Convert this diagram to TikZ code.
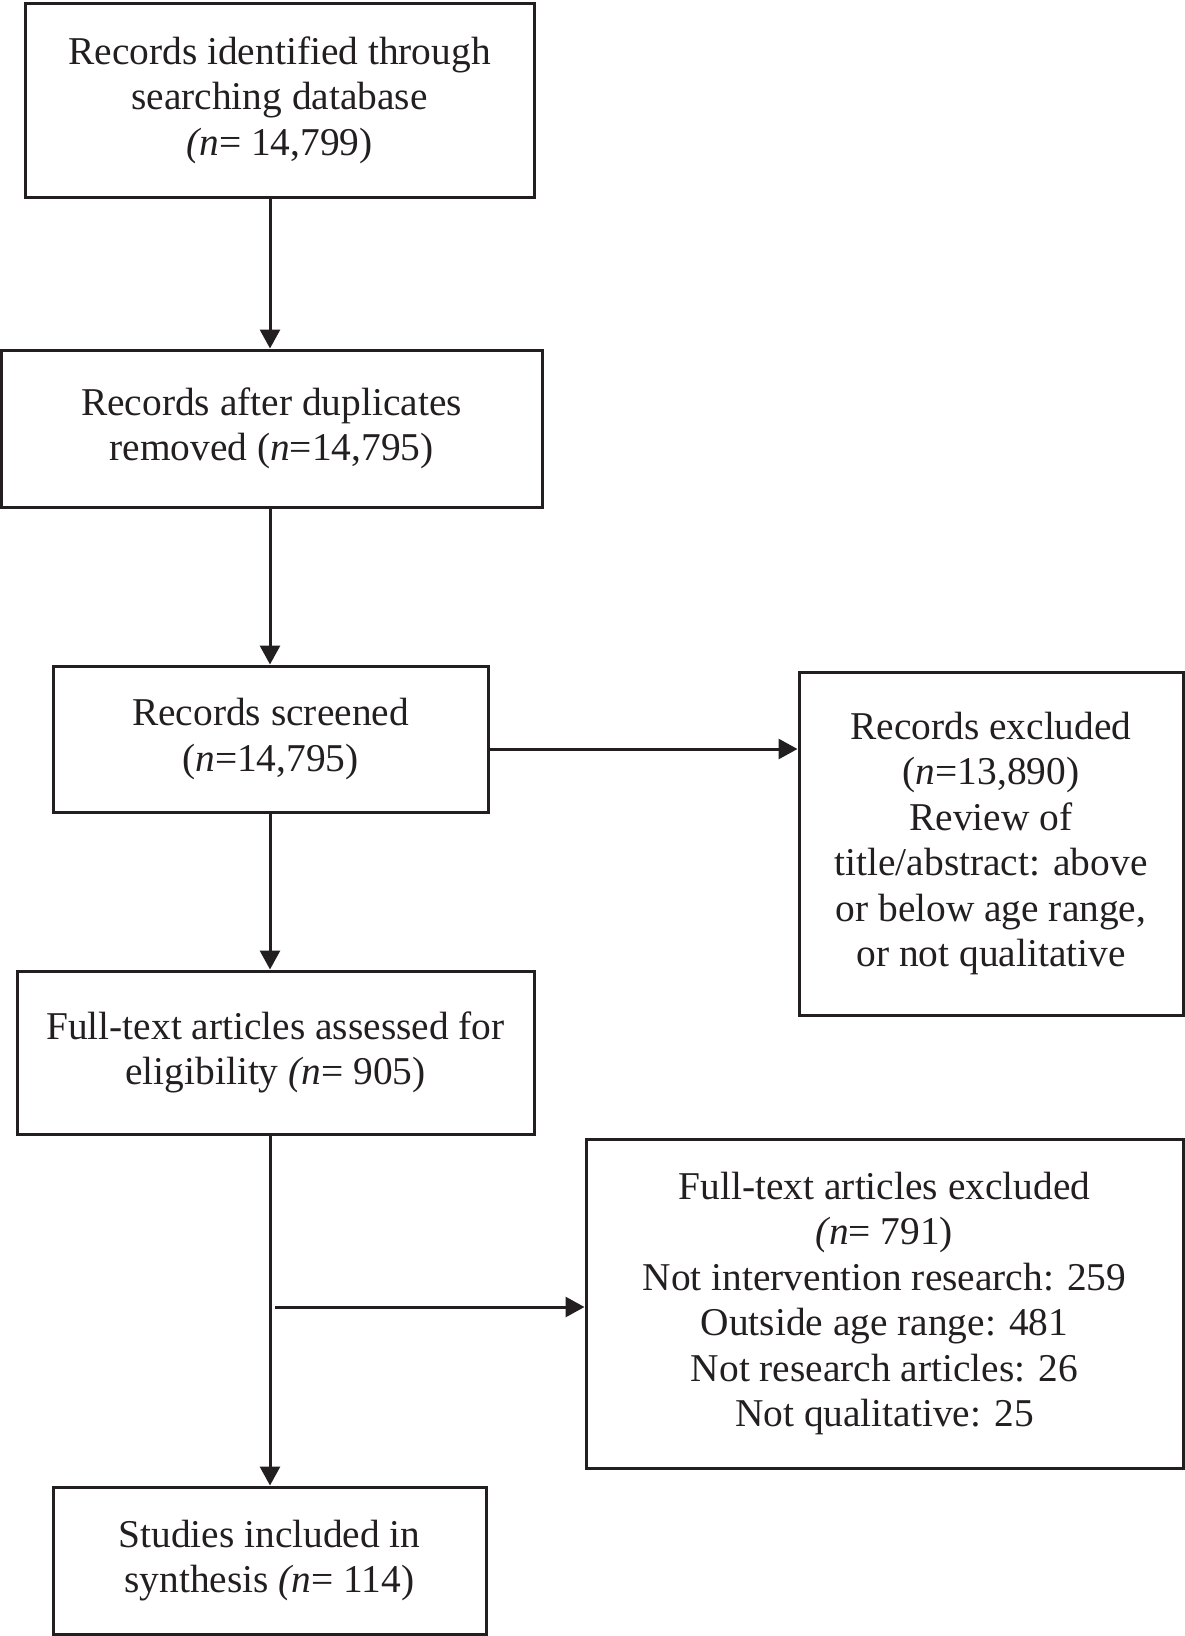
\documentclass[tikz,border=0pt]{standalone}
\usepackage{fontspec}
\setmainfont{Liberation Serif}
\usetikzlibrary{arrows.meta}
\definecolor{ink}{RGB}{35,31,32}
\tikzset{
  box/.style={draw=ink, line width=3pt, rectangle, inner sep=0pt, align=center,
    text=ink, font=\fontsize{39.4}{45.5}\selectfont},
  arr/.style={draw=ink, line width=3pt, -{Triangle[length=19pt,width=20pt]}}
}
\begin{document}
\begin{tikzpicture}[x=1pt,y=-1pt]
\useasboundingbox (0,0) rectangle (1185,1636);
\node[box, minimum width=509pt, minimum height=194pt] (b1) at (279.5,100)
  {Records identified through\\searching database\\\textit{(n}= 14,799)};
\node[box, minimum width=541pt, minimum height=157pt] (b2) at (271.5,428.5)
  {Records after duplicates\\removed (\textit{n}=14,795)};
\node[box, minimum width=435pt, minimum height=146pt] (b3) at (270.5,739)
  {Records screened\\(\textit{n}=14,795)};
\node[box, minimum width=384pt, minimum height=343pt] (b4) at (991,843.5)
  {Records excluded\\(\textit{n}=13,890)\\Review of\\title/abstract: above\\or below age range,\\or not qualitative};
\node[box, minimum width=517pt, minimum height=163pt] (b5) at (275.5,1052.5)
  {Full-text articles assessed for\\eligibility \textit{(n}= 905)};
\node[box, minimum width=597pt, minimum height=329pt] (b6) at (884.5,1303.5)
  {Full-text articles excluded\\\textit{(n}= 791)\\Not intervention research: 259\\Outside age range: 481\\Not research articles: 26\\Not qualitative: 25};
\node[box, minimum width=433pt, minimum height=147pt] (b7) at (269.5,1560.5)
  {Studies included in\\synthesis \textit{(n}= 114)};
\coordinate (spine) at (270,0);
\coordinate (r1) at (0,749);
\coordinate (r2) at (275,1307);
\draw[arr] (b1.south -| spine) -- (b2.north -| spine);
\draw[arr] (b2.south -| spine) -- (b3.north -| spine);
\draw[arr] (b3.south -| spine) -- (b5.north -| spine);
\draw[arr] (b5.south -| spine) -- (b7.north -| spine);
\draw[arr] (r1 -| b3.east) -- (r1 -| b4.west);
\draw[arr] (r2) -- (r2 -| b6.west);
\end{tikzpicture}
\end{document}
